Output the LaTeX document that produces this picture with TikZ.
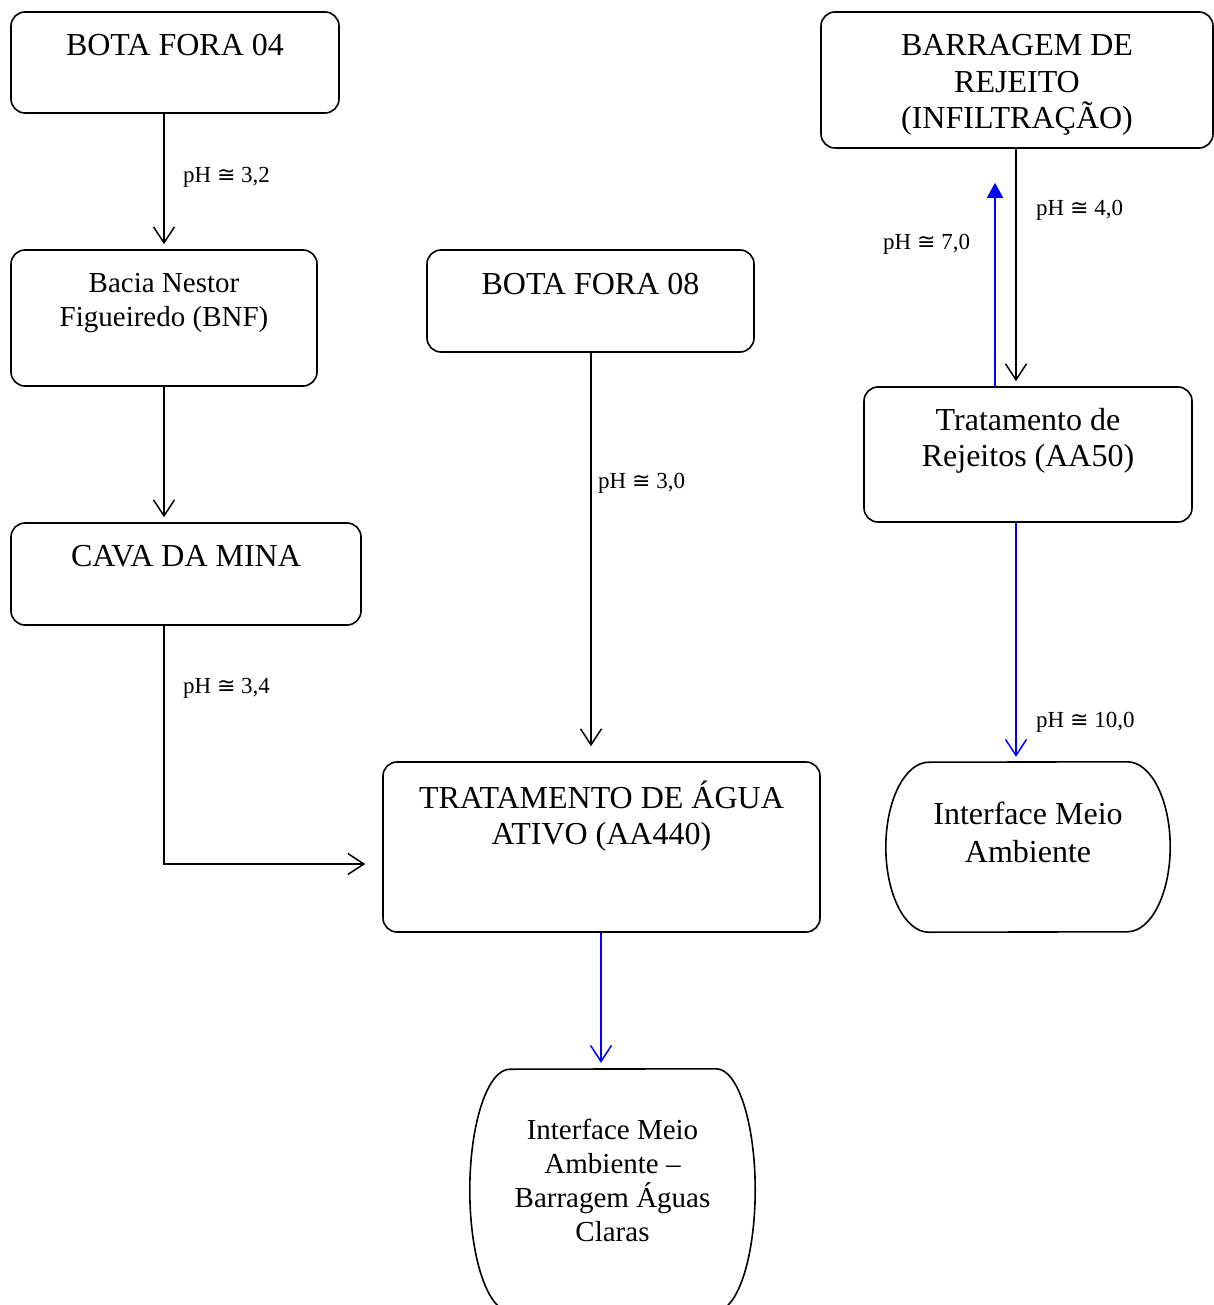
\documentclass[tikz,border=0pt]{standalone}
\usepackage{fontspec}
\setmainfont{Liberation Serif}
\newfontfamily\symfnt{DejaVu Sans}
\newcommand\phsym{{\symfnt\fontsize{22}{24}\selectfont ≅}}
\usetikzlibrary{arrows.meta,calc}
\begin{document}
\begin{tikzpicture}[x=1pt,y=-1pt,
  box/.style={draw,line width=1.6pt,rounded corners=14pt,inner sep=0pt},
  termbox/.style={inner sep=0pt},
  bigtxt/.style={align=center,inner sep=0pt,font=\fontsize{32}{36.5}\selectfont},
  midtxt/.style={align=center,inner sep=0pt,font=\fontsize{29}{34}\selectfont},
  phlbl/.style={anchor=west,inner sep=0pt,font=\fontsize{23}{27}\selectfont},
  arr/.style={line width=1.5pt,-{Straight Barb[length=16pt,width=21pt,line width=1.5pt]}},
  bluearr/.style={arr,draw=blue},
  farr/.style={line width=1.5pt,draw=blue,-{Triangle[length=15pt,width=16pt]},fill=blue}
]
\useasboundingbox (0,0) rectangle (1214,1305);

% boxes
\node[box,minimum width=328pt,minimum height=101pt] (bf04) at (175,62.5) {};
\node[box,minimum width=306pt,minimum height=136pt] (bacia) at (164,318) {};
\node[box,minimum width=350pt,minimum height=102pt] (cava) at (186,574) {};
\node[box,minimum width=327pt,minimum height=102pt] (bf08) at (590.5,301) {};
\node[box,minimum width=437pt,minimum height=170pt] (trat) at (601.5,847) {};
\node[box,minimum width=392pt,minimum height=136pt] (barr) at (1017,80) {};
\node[box,minimum width=328pt,minimum height=135pt] (rej) at (1028,454.5) {};
\node[termbox,minimum width=284pt,minimum height=170pt] (env1) at (1028,847) {};
\node[termbox,minimum width=285pt,minimum height=242pt] (env2) at (612.5,1190) {};

% terminal outlines
\draw[line width=1.6pt] ($(env1.north east)+(-43,0)$) arc[start angle=90,end angle=-90,x radius=43pt,y radius=85pt]
  -- ($(env1.south west)+(43,0)$) arc[start angle=270,end angle=90,x radius=43pt,y radius=85pt] -- cycle;
\draw[line width=1.6pt] ($(env2.north east)+(-39,0)$) arc[start angle=90,end angle=-90,x radius=39pt,y radius=121pt]
  -- ($(env2.south west)+(40,0)$) arc[start angle=270,end angle=90,x radius=40pt,y radius=121pt] -- cycle;

% texts
\node[bigtxt] (t1) at (175,45) {BOTA FORA 04};
\node[midtxt] (t2) at (164,303) {Bacia Nestor\\Figueiredo (BNF)};
\node[bigtxt] (t3) at (186,556) {CAVA DA MINA};
\node[bigtxt] (t4) at (590.5,284) {BOTA FORA 08};
\node[bigtxt] (t5) at (601.5,816) {TRATAMENTO DE ÁGUA\\ATIVO (AA440)};
\node[bigtxt] (t6) at (1017,85) {BARRAGEM DE\\REJEITO\\(INFILTRAÇÃO)};
\node[bigtxt] (t7) at (1028,441) {Tratamento de\\Rejeitos (AA50)};
\node[bigtxt,font=\fontsize{32}{38}\selectfont] (t8) at (1028,832) {Interface Meio\\Ambiente};
\node[midtxt] (t9) at (612.5,1180) {Interface Meio\\Ambiente –\\Barragem Águas\\Claras};

% connectors
\draw[arr,shorten >=5pt] (bacia.north |- bf04.south) -- (bacia.north);
\draw[arr,shorten >=5pt] (bacia.south) -- (bacia.south |- cava.north);
\draw[arr] (bacia.south |- cava.south) |- ($(trat.west)+(-17,17)$);
\draw[arr,shorten >=15pt] ($(bf08.south)+(0.5,0)$) -- ($(bf08.south |- trat.north)+(0.5,0)$);
\draw[bluearr,shorten >=6pt] ($(trat.south)+(-0.5,0)$) -- ($(trat.south |- env2.north)+(-0.5,0)$);
\draw[arr,shorten >=5pt] ($(barr.south)+(-1,0)$) -- ($(rej.north)+(-12,0)$);
\draw[farr,shorten >=34pt] ($(rej.north)+(-33,0)$) -- ($(barr.south)+(-22,0)$);
\draw[bluearr,shorten >=5pt] ($(rej.south)+(-12,0)$) -- ($(env1.north)+(-12,0)$);

% labels
\node[phlbl] (p1) at (183,177) {pH \phsym{} 3,2};
\node[phlbl] (p2) at (183,688) {pH \phsym{} 3,4};
\node[phlbl] (p3) at (598,483) {pH \phsym{} 3,0};
\node[phlbl] (p4) at (1036,210) {pH \phsym{} 4,0};
\node[phlbl] (p5) at (883,244) {pH \phsym{} 7,0};
\node[phlbl] (p6) at (1036,722) {pH \phsym{} 10,0};
\end{tikzpicture}
\end{document}
